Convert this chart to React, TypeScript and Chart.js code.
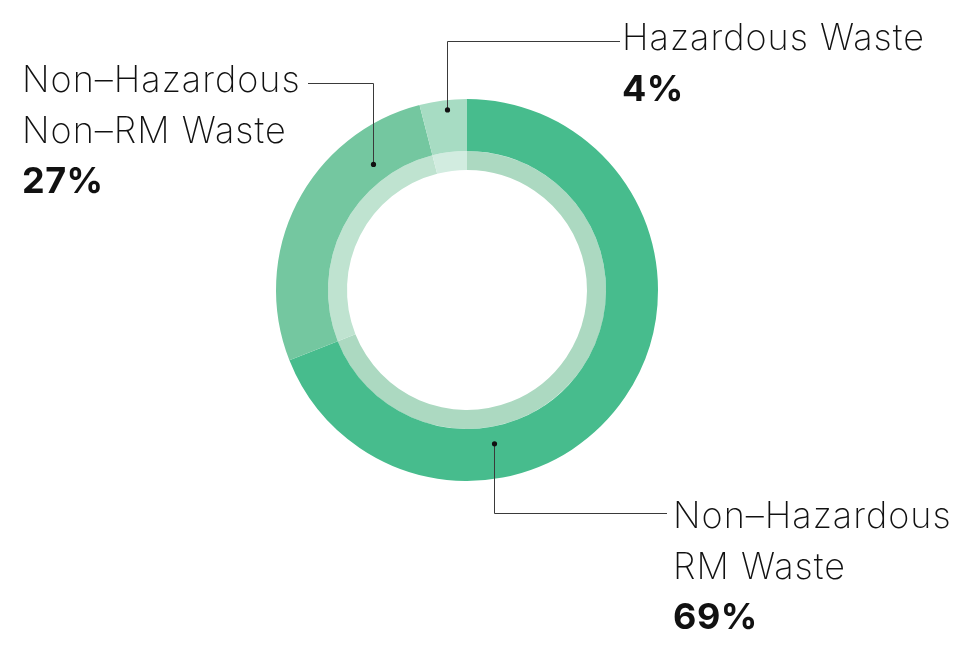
import React, { useEffect, useRef } from "react";
import { Chart, registerables } from "chart.js";

Chart.register(...registerables);

// ---- data ----
const categories = ["Non–Hazardous RM Waste", "Non–Hazardous Non–RM Waste", "Hazardous Waste"];
const shares = [69, 27, 4];
const labelLines = [["Non–Hazardous", "RM Waste"], ["Non–Hazardous", "Non–RM Waste"], ["Hazardous Waste"]];
const outerColors = ["#47bc8d", "#74c7a0", "#a7dcc3"];
const innerColors = ["#acd9c1", "#bfe3d0", "#d2ece0"];

// ---- label layout (annotation placement) ----
const labelLayout = [
  { anchorFrac: 0.685, radiusFrac: 0.33, elbowY: 513, lineEndX: 667, textX: 673, baseline: 528 },
  { anchorFrac: 0.77, radiusFrac: 0.34, elbowY: 83, lineEndX: 308, textX: 22, baseline: 92 },
  { anchorFrac: 0.57, radiusFrac: 0.81, elbowY: 41, lineEndX: 620, textX: 622, baseline: 50 },
];
const LINE_HEIGHT = 50.5;
const LIGHT_FONT = '200 36px Inter, "Noto Sans", sans-serif';
const BOLD_FONT = '700 36px Inter, "Noto Sans", sans-serif';

const calloutPlugin = {
  id: "callouts",
  afterDraw(chart: any) {
    const ctx: any = chart.ctx;
    const meta = chart.getDatasetMeta(0);
    meta.data.forEach((arc: any, i: number) => {
      const p = arc.getProps(["x", "y", "startAngle", "endAngle", "innerRadius", "outerRadius"], true);
      const L = labelLayout[i];
      const a = p.startAngle + L.anchorFrac * (p.endAngle - p.startAngle);
      const r = p.innerRadius + L.radiusFrac * (p.outerRadius - p.innerRadius);
      const dx = Math.round(p.x + r * Math.cos(a)) + 0.5;
      const dy = p.y + r * Math.sin(a);
      const ey = Math.round(L.elbowY) + 0.5;
      ctx.save();
      ctx.strokeStyle = "#3a3a3a";
      ctx.lineWidth = 1;
      ctx.beginPath();
      ctx.moveTo(dx, dy);
      ctx.lineTo(dx, ey);
      ctx.lineTo(L.lineEndX, ey);
      ctx.stroke();
      ctx.fillStyle = "#111";
      ctx.beginPath();
      ctx.arc(dx, dy, 2.6, 0, Math.PI * 2);
      ctx.fill();
      ctx.textAlign = "left";
      ctx.textBaseline = "alphabetic";
      ctx.fillStyle = "#111";
      ctx.font = LIGHT_FONT;
      ctx.letterSpacing = "1px";
      const lines = labelLines[i];
      lines.forEach((t, k) => ctx.fillText(t, L.textX, L.baseline + k * LINE_HEIGHT));
      ctx.font = BOLD_FONT;
      ctx.letterSpacing = "0.5px";
      ctx.fillText(`${shares[i]}%`, L.textX, L.baseline + lines.length * LINE_HEIGHT);
      ctx.restore();
    });
  },
};

export default function App() {
  const ref = useRef<HTMLCanvasElement | null>(null);
  useEffect(() => {
    document.body.style.margin = "0";
    if (!ref.current) return;
    const chart = new Chart(ref.current, {
      type: "doughnut",
      data: {
        labels: categories,
        datasets: [
          { data: shares, backgroundColor: outerColors, borderWidth: 0, hoverOffset: 0, weight: 52 } as any,
          { data: shares, backgroundColor: innerColors, borderWidth: 0, hoverOffset: 0, weight: 19 } as any,
        ],
      },
      options: {
        animation: false,
        responsive: false,
        events: [],
        cutout: "62.83%",
        layout: { padding: { left: 276, right: 317, top: 99, bottom: 172 } },
        plugins: { legend: { display: false }, tooltip: { enabled: false } },
      },
      plugins: [calloutPlugin],
    });
    return () => chart.destroy();
  }, []);
  return (
    <div style={{ width: 975, height: 653, position: "relative" }}>
      <canvas ref={ref} width={975} height={653} style={{ display: "block", width: 975, height: 653 }} />
    </div>
  );
}
